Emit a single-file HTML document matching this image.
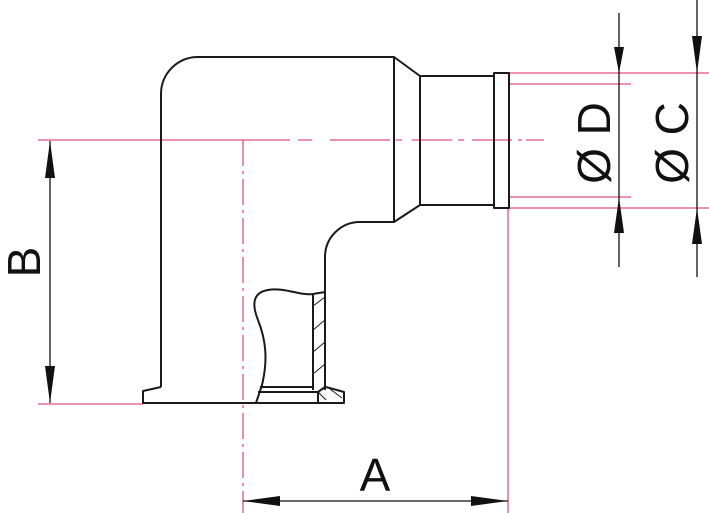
<!DOCTYPE html>
<html><head><meta charset="utf-8"><style>html,body{margin:0;padding:0;background:#fff}svg{display:block}</style></head><body>
<svg width="709" height="513" viewBox="0 0 709 513" xmlns="http://www.w3.org/2000/svg" font-family="Liberation Sans, sans-serif">
<g stroke="#e0527a" stroke-width="1.3" fill="none">
<line x1="38" y1="140" x2="290" y2="140"/>
<path d="M298 140h14M330 140h60M396 140h6M412 140h40M458 140h6M472 140h40M518 140h4M526 140h18" />
<line x1="243" y1="140" x2="243" y2="513" stroke-dasharray="26,5,3,5"/>
<line x1="38" y1="404" x2="143" y2="404"/>
<line x1="508" y1="208" x2="508" y2="513"/>
<line x1="509" y1="73" x2="709" y2="73"/>
<line x1="509" y1="84" x2="631" y2="84"/>
<line x1="509" y1="197" x2="631" y2="197"/>
<line x1="509" y1="208" x2="709" y2="208"/>
</g>
<g stroke="#1a1a1a" stroke-width="2" fill="none" stroke-linejoin="round">
<path d="M161 387 V94 A37 37 0 0 1 198 57 H394 L420 76 H494 V205 H420 L394 222 H360 A35 35 0 0 0 325 257 V390"/>
<line x1="394" y1="57" x2="394" y2="222"/>
<line x1="420" y1="76" x2="420" y2="205"/>
<rect x="494" y="73" width="15" height="135"/>
<path d="M161 387 L143 391 V403 H344 V392 L326 387"/>
<path d="M256 403 L262 385 C268 360 266 340 258 320 C250 300 256 292 268 290 C285 287 300 296 313 294 L325 292"/>
<line x1="313" y1="294" x2="313" y2="390"/>
<path d="M260 387 H313 M258 392 H318 L325 387"/>
<line x1="318" y1="392" x2="318" y2="403"/>
</g>
<g stroke="#1a1a1a" stroke-width="1" fill="none">
<path d="M313 306 L325 297 M313 330 L325 320 M313 352 L325 342 M313 374 L325 364 M318 392 L326 400 M330 389 L342 398"/>
</g>
<g stroke="#111" stroke-width="1.3" fill="none">
<line x1="50" y1="141" x2="50" y2="403"/>
<line x1="243" y1="501" x2="508" y2="501"/>
<line x1="619" y1="13" x2="619" y2="267"/>
<line x1="697" y1="0" x2="697" y2="277"/>
</g>
<g fill="#111">
<polygon points="50,141 45,178 55,178"/>
<polygon points="50,403 45,366 55,366"/>
<polygon points="243,501 280,496 280,506"/>
<polygon points="508,501 471,496 471,506"/>
<polygon points="619,73 614,47 624,47"/>
<polygon points="619,197 614,233 624,233"/>
<polygon points="697,73 692,36 702,36"/>
<polygon points="697,208 692,244 702,244"/>
</g>
<g fill="#111" font-size="46" text-anchor="middle">
<text x="375" y="491">A</text>
<text transform="translate(40,262) rotate(-90)">B</text>
<text transform="translate(610,143) rotate(-90)">Ø D</text>
<text transform="translate(688,143) rotate(-90)">Ø C</text>
</g>
</svg>
</body></html>
